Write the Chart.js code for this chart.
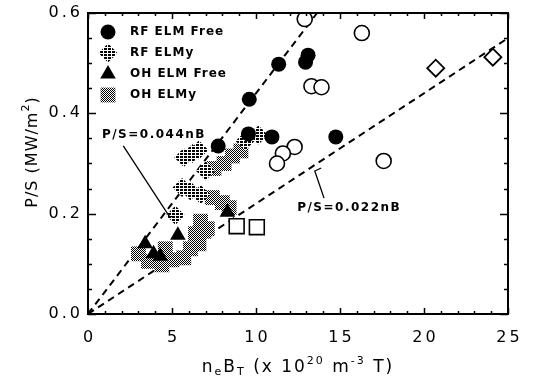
<!DOCTYPE html>
<html>
<head>
<meta charset="utf-8">
<script src="https://cdn.jsdelivr.net/npm/chart.js@4/dist/chart.umd.min.js"></script>
<style>
  html, body { margin: 0; padding: 0; background: #ffffff; }
  #wrap { width: 538px; height: 379px; position: relative; }
</style>
</head>
<body>
<div id="wrap"><canvas id="c" width="538" height="379"></canvas></div>
<script>
// ---- data: heating power per surface vs n_e*B_T ----
const rfElmFreeX = [7.75, 9.6, 11.35, 13.1, 12.95, 9.55, 10.95, 14.75];
const rfElmFreeY = [0.335, 0.428, 0.498, 0.516, 0.502, 0.359, 0.353, 0.353];

const rfElmyX = [5.7, 6.2, 6.6, 7.0, 5.6, 6.1, 6.7, 5.2, 10.15, 9.35];
const rfElmyY = [0.312, 0.32, 0.327, 0.285, 0.252, 0.245, 0.238, 0.197, 0.357, 0.345];

const ohElmFreeX = [3.4, 3.9, 4.3, 5.35, 8.3];
const ohElmFreeY = [0.14, 0.12, 0.115, 0.157, 0.203];

const ohElmyX = [7.5, 8.1, 8.6, 9.1, 7.4, 8.0, 8.4, 6.7, 6.4, 6.9, 6.1, 5.7, 5.0, 4.4, 3.6, 3.0, 4.6, 6.6, 7.1];
const ohElmyY = [0.29, 0.30, 0.315, 0.325, 0.232, 0.222, 0.212, 0.185, 0.16, 0.165, 0.13, 0.112, 0.108, 0.098, 0.105, 0.12, 0.13, 0.14, 0.17];

const otherCircleX = [12.9, 16.3, 13.3, 13.9, 12.3, 11.6, 11.25, 17.6];
const otherCircleY = [0.588, 0.56, 0.454, 0.452, 0.333, 0.32, 0.30, 0.305];

const otherSquareX = [8.85, 10.05];
const otherSquareY = [0.175, 0.173];

const otherDiamondX = [20.7, 24.1];
const otherDiamondY = [0.49, 0.512];

// fitted scalings P/S = k * nB
const fitSlopes = [0.044, 0.022];
const fitLabels = ['P/S=0.044nB', 'P/S=0.022nB'];

const xTickValues = [0, 5, 10, 15, 20, 25];
const xTickLabels = ['0', '5', '10', '15', '20', '25'];
const yTickValues = [0, 0.2, 0.4, 0.6];
const yTickLabels = ['0.0', '0.2', '0.4', '0.6'];

const legendLabels = ['RF ELM Free', 'RF ELMy', 'OH ELM Free', 'OH ELMy'];

// ---- helpers ----
function pts(xs, ys) { return xs.map((x, i) => ({ x: x, y: ys[i] })); }

const canvas = document.getElementById('c');
const ctx0 = canvas.getContext('2d');

function makePattern(w, h, cells) {
  const c = document.createElement('canvas');
  c.width = w; c.height = h;
  const g = c.getContext('2d');
  g.fillStyle = '#ffffff';
  g.fillRect(0, 0, w, h);
  g.fillStyle = '#000000';
  cells.forEach(([x, y]) => g.fillRect(x, y, 1, 1));
  return ctx0.createPattern(c, 'repeat');
}
// broken horizontal bars for RF ELMy, fine checker for OH ELMy
const stripePattern = makePattern(4, 3, [[0,0],[1,0],[2,0],[0,1],[1,1],[2,1]]);
const checkerPattern = makePattern(2, 2, [[0,0],[1,1]]);

function fitLine(k) {
  const xEnd = Math.min(25, 0.6 / k);
  return [{ x: 0, y: 0 }, { x: xEnd, y: k * xEnd }];
}

const FONT = '"DejaVu Sans", "Liberation Sans", sans-serif';

function drawShape(ctx, style, r, cx, cy) {
  if (style === 'circle') {
    ctx.arc(cx, cy, r, 0, Math.PI * 2);
  } else if (style === 'rectRot') {
    ctx.moveTo(cx, cy - r); ctx.lineTo(cx + r, cy); ctx.lineTo(cx, cy + r); ctx.lineTo(cx - r, cy); ctx.closePath();
  } else if (style === 'rect') {
    const h = r * Math.SQRT1_2;
    ctx.rect(cx - h, cy - h, 2 * h, 2 * h);
  } else if (style === 'triangle') {
    ctx.moveTo(cx, cy - r);
    ctx.lineTo(cx + r * Math.sin(2 * Math.PI / 3), cy - r * Math.cos(2 * Math.PI / 3));
    ctx.lineTo(cx + r * Math.sin(4 * Math.PI / 3), cy - r * Math.cos(4 * Math.PI / 3));
    ctx.closePath();
  }
}

// text runs: 0 = normal, -1 = subscript, 1 = superscript
function runsWidth(ctx, runs, big, small) {
  let w = 0;
  runs.forEach(([t, s]) => {
    ctx.font = (s ? small : big) + 'px ' + FONT;
    w += ctx.measureText(t).width;
  });
  return w;
}
function drawRuns(ctx, runs, cx, base, big, small) {
  runs.forEach(([t, s]) => {
    ctx.font = (s ? small : big) + 'px ' + FONT;
    const dy = s === -1 ? 3 : s === 1 ? -8 : 0;
    ctx.fillText(t, cx, base + dy);
    cx += ctx.measureText(t).width;
  });
}

// ---- custom drawing: frame, ticks, labels, legend, notes ----
const decorPlugin = {
  id: 'decor',
  afterDatasetsDraw(chart) {
    const { ctx, chartArea: a, scales: { x, y } } = chart;
    ctx.save();
    ctx.strokeStyle = '#000';
    ctx.fillStyle = '#000';

    // frame
    ctx.lineWidth = 2;
    ctx.strokeRect(a.left, a.top, a.right - a.left, a.bottom - a.top);

    // inward ticks on all four sides
    ctx.lineWidth = 1.5;
    ctx.beginPath();
    for (let v = 0; v <= 25; v += 1) {
      const px = Math.round(x.getPixelForValue(v)) + 0.5;
      const len = v % 5 === 0 ? 6 : 3;
      ctx.moveTo(px, a.bottom); ctx.lineTo(px, a.bottom - len);
      ctx.moveTo(px, a.top); ctx.lineTo(px, a.top + len);
    }
    for (let i = 0; i <= 12; i++) {
      const v = i * 0.05;
      const py = Math.round(y.getPixelForValue(v)) + 0.5;
      const len = i % 4 === 0 ? 8 : 4;
      ctx.moveTo(a.left, py); ctx.lineTo(a.left + len, py);
      ctx.moveTo(a.right, py); ctx.lineTo(a.right - len, py);
    }
    ctx.stroke();

    // tick labels
    ctx.font = '16px ' + FONT;
    ctx.letterSpacing = '3px';
    ctx.textBaseline = 'middle';
    ctx.textAlign = 'center';
    xTickValues.forEach((v, i) => ctx.fillText(xTickLabels[i], x.getPixelForValue(v) + 1.5, a.bottom + 24));
    ctx.textAlign = 'right';
    yTickValues.forEach((v, i) => ctx.fillText(yTickLabels[i], a.left - 5, y.getPixelForValue(v)));

    // x axis title with sub/superscripts
    const runs = [
      ['n', 0], ['e', -1], ['B', 0], ['T', -1], [' (x 10', 0], ['20', 1], [' m', 0], ['-3', 1], [' T)', 0]
    ];
    ctx.letterSpacing = '2px';
    ctx.textAlign = 'left';
    ctx.textBaseline = 'alphabetic';
    let total = runsWidth(ctx, runs, 17, 11);
    drawRuns(ctx, runs, (a.left + a.right) / 2 - total / 2, 372, 17, 11);

    // y axis title, rotated
    ctx.save();
    ctx.translate(37, 152);
    ctx.rotate(-Math.PI / 2);
    ctx.letterSpacing = '1px';
    const yruns = [['P/S (MW/m', 0], ['2', 1], [')', 0]];
    total = runsWidth(ctx, yruns, 16, 11);
    drawRuns(ctx, yruns, -total / 2, 0, 16, 11);
    ctx.restore();

    // legend in the upper-left corner
    const ds = chart.data.datasets;
    ctx.letterSpacing = '1px';
    ctx.textBaseline = 'middle';
    ctx.textAlign = 'left';
    const legendRows = [32, 53, 74, 95];
    for (let i = 0; i < 4; i++) {
      const d = ds[i];
      ctx.fillStyle = d.pointBackgroundColor;
      ctx.beginPath();
      drawShape(ctx, d.pointStyle, d.pointRadius, 108, legendRows[i]);
      ctx.fill();
      ctx.fillStyle = '#000';
      ctx.font = 'bold 12px ' + FONT;
      ctx.fillText(legendLabels[i], 130, legendRows[i]);
    }

    // scaling labels with leader lines
    ctx.font = 'bold 12px ' + FONT;
    ctx.letterSpacing = '1.5px';
    ctx.fillStyle = '#000';
    ctx.strokeStyle = '#000';
    ctx.lineWidth = 1.3;
    ctx.textBaseline = 'middle';
    ctx.fillText(fitLabels[0], x.getPixelForValue(0.83), y.getPixelForValue(0.357));
    ctx.fillText(fitLabels[1], x.getPixelForValue(12.45), y.getPixelForValue(0.211));
    ctx.beginPath();
    ctx.moveTo(x.getPixelForValue(2.1), y.getPixelForValue(0.335));
    ctx.lineTo(x.getPixelForValue(4.85), y.getPixelForValue(0.194));
    ctx.lineTo(x.getPixelForValue(5.15), y.getPixelForValue(0.194));
    ctx.moveTo(x.getPixelForValue(14.05), y.getPixelForValue(0.231));
    ctx.lineTo(x.getPixelForValue(13.5), y.getPixelForValue(0.285));
    ctx.lineTo(x.getPixelForValue(13.88), y.getPixelForValue(0.291));
    ctx.stroke();

    ctx.letterSpacing = '0px';
    ctx.restore();
  }
};

const dashed = (k, name) => ({
  type: 'line',
  label: name,
  data: fitLine(k),
  borderColor: '#000',
  borderWidth: 2,
  borderDash: [7, 5],
  pointRadius: 0,
  fill: false,
  order: 5
});

new Chart(canvas, {
  type: 'scatter',
  data: {
    datasets: [
      { label: 'RF ELM Free', data: pts(rfElmFreeX, rfElmFreeY), pointStyle: 'circle', pointRadius: 7.5,
        pointBackgroundColor: '#000', pointBorderColor: '#000', pointBorderWidth: 0, order: 0 },
      { label: 'RF ELMy', data: pts(rfElmyX, rfElmyY), pointStyle: 'rectRot', pointRadius: 9.5,
        pointBackgroundColor: stripePattern, pointBorderColor: 'rgba(0,0,0,0)', pointBorderWidth: 0, order: 2 },
      { label: 'OH ELM Free', data: pts(ohElmFreeX, ohElmFreeY), pointStyle: 'triangle', pointRadius: 9,
        pointBackgroundColor: '#000', pointBorderColor: '#000', pointBorderWidth: 0, order: 0 },
      { label: 'OH ELMy', data: pts(ohElmyX, ohElmyY), pointStyle: 'rect', pointRadius: 10.5,
        pointBackgroundColor: checkerPattern, pointBorderColor: 'rgba(0,0,0,0)', pointBorderWidth: 0, order: 3 },
      { label: 'circles', data: pts(otherCircleX, otherCircleY), pointStyle: 'circle', pointRadius: 7.5,
        pointBackgroundColor: '#fff', pointBorderColor: '#000', pointBorderWidth: 1.6, order: 1 },
      { label: 'squares', data: pts(otherSquareX, otherSquareY), pointStyle: 'rect', pointRadius: 10.5,
        pointBackgroundColor: '#fff', pointBorderColor: '#000', pointBorderWidth: 1.6, order: 1 },
      { label: 'diamonds', data: pts(otherDiamondX, otherDiamondY), pointStyle: 'rectRot', pointRadius: 8.5,
        pointBackgroundColor: '#fff', pointBorderColor: '#000', pointBorderWidth: 1.8, order: 4 },
      dashed(fitSlopes[0], 'fit 0.044'),
      dashed(fitSlopes[1], 'fit 0.022')
    ]
  },
  options: {
    responsive: false,
    animation: false,
    devicePixelRatio: 1,
    layout: { padding: { left: 88, top: 13, right: 30, bottom: 65 } },
    scales: {
      x: { type: 'linear', min: 0, max: 25, display: false },
      y: { type: 'linear', min: 0, max: 0.6, display: false }
    },
    plugins: { legend: { display: false }, tooltip: { enabled: false } },
    elements: { point: { hoverRadius: 0 } }
  },
  plugins: [decorPlugin]
});
</script>
</body>
</html>
